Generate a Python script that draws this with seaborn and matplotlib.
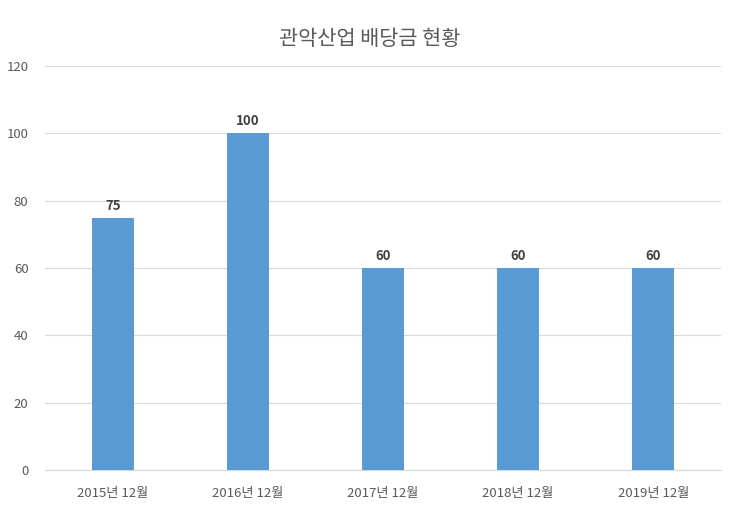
import matplotlib
matplotlib.use("Agg")
import matplotlib.pyplot as plt
import seaborn as sns
import pandas as pd

# 데이터
periods = ["2015년 12월", "2016년 12월", "2017년 12월", "2018년 12월", "2019년 12월"]
dividends = [75, 100, 60, 60, 60]

df = pd.DataFrame({"period": periods, "dividend": dividends})

sns.set_style("white")
plt.rcParams['font.family'] = ['Noto Sans CJK KR', 'DejaVu Sans']

fig = plt.figure(figsize=(7.4, 5.16), dpi=100)
ax = fig.add_axes([0.061, 0.089, 0.913, 0.783])

sns.barplot(data=df, x="period", y="dividend", color="#5B9BD5", saturation=1,
            width=0.31, linewidth=0, ax=ax, zorder=3)

for i, v in enumerate(dividends):
    ax.text(i, v + 1.5, str(v), ha="center", va="bottom", fontsize=9.5,
            fontweight="bold", color="#404040")

ax.set_ylim(0, 120)
ax.set_xlim(-0.5, 4.5)
ax.set_yticks(range(0, 121, 20))
ax.yaxis.grid(True, color="#D9D9D9", linewidth=0.8, zorder=0)
ax.set_xlabel("")
ax.set_ylabel("")
for s in ["top", "right", "left"]:
    ax.spines[s].set_visible(False)
ax.spines["bottom"].set_color("#D9D9D9")
ax.tick_params(axis="both", length=0, labelsize=9.5, colors="#595959")
ax.tick_params(axis="x", pad=12)
ax.tick_params(axis="y", pad=12)

fig.suptitle("관악산업 배당금 현황", y=0.945, fontsize=15, color="#595959")

plt.savefig("out.png", dpi=100)
